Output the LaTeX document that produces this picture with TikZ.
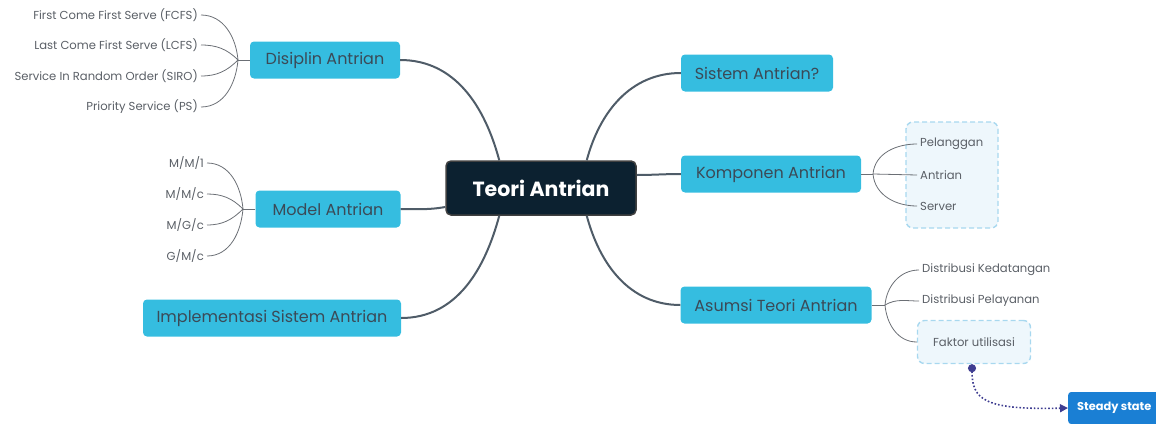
\documentclass[tikz,border=0pt]{standalone}
\usepackage{fontspec}
\setmainfont{Poppins}
\usetikzlibrary{arrows.meta}
\definecolor{branchblue}{HTML}{35BDE0}
\definecolor{rootdark}{HTML}{0C2130}
\definecolor{inkgray}{HTML}{3B4A57}
\definecolor{leafgray}{HTML}{5A5F66}
\definecolor{linkblue}{HTML}{3F3D91}
\definecolor{groupfill}{HTML}{EEF7FC}
\definecolor{groupline}{HTML}{A8D8EF}
\definecolor{steadyblue}{HTML}{1A7FD4}
\tikzset{
  root/.style={draw=black!75, line width=1.5pt, fill=rootdark, rounded corners=5pt, text=white,
    font=\fontsize{20.5}{24}\selectfont\bfseries, minimum width=190pt, minimum height=54pt},
  branch/.style={fill=branchblue, rounded corners=4pt, text=inkgray, font=\fontsize{16}{19}\selectfont,
    minimum height=37pt, inner xsep=12pt},
  leaf/.style={text=leafgray, font=\fontsize{11.6}{14}\selectfont, inner sep=3pt},
  group/.style={draw=groupline, dash pattern=on 5pt off 3pt, line width=1.4pt, fill=groupfill, rounded corners=7pt},
  limb/.style={draw=inkgray!90, line width=2pt},
  twig/.style={draw=leafgray!90, line width=0.8pt},
  link/.style={draw=linkblue, line width=1.6pt, dotted, {Circle[length=8pt]-Triangle[length=8pt,width=8pt]}}
}
\begin{document}
\begin{tikzpicture}[x=1pt,y=-1pt]
		\useasboundingbox (0,0) rectangle (1156,423);
		\node[root] (teori) at (541,188) {Teori Antrian};
		\node[branch, minimum width=150pt] (disiplin) at (325,60) {Disiplin Antrian};
		\node[branch, minimum width=145pt] (model) at (328,209) {Model Antrian};
		\node[branch, minimum width=258pt] (impl) at (272,318) {Implementasi Sistem Antrian};
		\node[branch, minimum width=152pt] (sistem) at (757,73) {Sistem Antrian?};
		\node[branch, minimum width=180pt] (komponen) at (771,174) {Komponen Antrian};
		\node[branch, minimum width=191pt] (asumsi) at (776,305) {Asumsi Teori Antrian};
		\node[group, minimum width=92pt, minimum height=106pt] (kgroup) at (952,175) {};
		\node[leaf, anchor=east] (fcfs) at (201,15) {First Come First Serve (FCFS)};
		\node[leaf, anchor=east] (lcfs) at (201,45) {Last Come First Serve (LCFS)};
		\node[leaf, anchor=east] (siro) at (201,76) {Service In Random Order (SIRO)};
		\node[leaf, anchor=east] (ps) at (201,107) {Priority Service (PS)};
		\node[leaf, anchor=east] (mm1) at (207,163) {M/M/1};
		\node[leaf, anchor=east] (mmc) at (207,194) {M/M/c};
		\node[leaf, anchor=east] (mgc) at (207,225) {M/G/c};
		\node[leaf, anchor=east] (gmc) at (207,256) {G/M/c};
		\node[leaf, anchor=west] (pelanggan) at (917,144) {Pelanggan};
		\node[leaf, anchor=west] (antrian) at (917,175) {Antrian};
		\node[leaf, anchor=west] (server) at (917,206) {Server};
		\node[leaf, anchor=west] (kedatangan) at (919,270) {Distribusi Kedatangan};
		\node[leaf, anchor=west] (pelayanan) at (919,301) {Distribusi Pelayanan};
		\node[leaf, group, minimum width=113pt, minimum height=43pt] (faktor) at (974,342) {Faktor utilisasi};
		\node[fill=steadyblue, rounded corners=3pt, text=white, font=\fontsize{11.4}{14}\selectfont\bfseries,
		  anchor=west, minimum height=32pt, inner xsep=9pt] (steady) at (1068,408) {Steady state};
		\coordinate (dj) at (238,60);
		\coordinate (mj) at (243,209);
		\coordinate (kj) at (873,174);
		\coordinate (aj) at (885,305);
		\draw[limb] (teori.north west) ++(54,0) to[out=105,in=0] (disiplin.east);
		\draw[limb] (teori.north east) ++(-50,0) to[out=75,in=180] (sistem.west);
		\draw[limb] (teori.west) ++(0,19) to[out=190,in=0] (model.east);
		\draw[limb] (teori.east) ++(0,-13) to[out=0,in=180] (komponen.west);
		\draw[limb] (teori.south west) ++(54,0) to[out=-105,in=0] (impl.east);
		\draw[limb] (teori.south east) ++(-50,0) to[out=-75,in=180] (asumsi.west);
		\draw[twig] (disiplin.west) -- (dj);
		\draw[twig] (dj) to[out=95,in=0] (fcfs.east);
		\draw[twig] (dj) to[out=135,in=0] (lcfs.east);
		\draw[twig] (dj) to[out=-135,in=0] (siro.east);
		\draw[twig] (dj) to[out=-95,in=0] (ps.east);
		\draw[twig] (model.west) -- (mj);
		\draw[twig] (mj) to[out=95,in=0] (mm1.east);
		\draw[twig] (mj) to[out=135,in=0] (mmc.east);
		\draw[twig] (mj) to[out=-135,in=0] (mgc.east);
		\draw[twig] (mj) to[out=-95,in=0] (gmc.east);
		\draw[twig] (komponen.east) -- (kj);
		\draw[twig] (kj) to[out=85,in=180] (pelanggan.west);
		\draw[twig] (kj) -- (antrian.west);
		\draw[twig] (kj) to[out=-85,in=180] (server.west);
		\draw[twig] (asumsi.east) -- (aj);
		\draw[twig] (aj) to[out=85,in=180] (kedatangan.west);
		\draw[twig] (aj) to[out=30,in=180] (pelayanan.west);
		\draw[twig] (aj) to[out=-85,in=180] (faktor.west);
		\draw[link] (faktor.south) ++(-2,0) .. controls (972,400) and (985,410) .. (steady.west);
	\end{tikzpicture}
\end{document}
